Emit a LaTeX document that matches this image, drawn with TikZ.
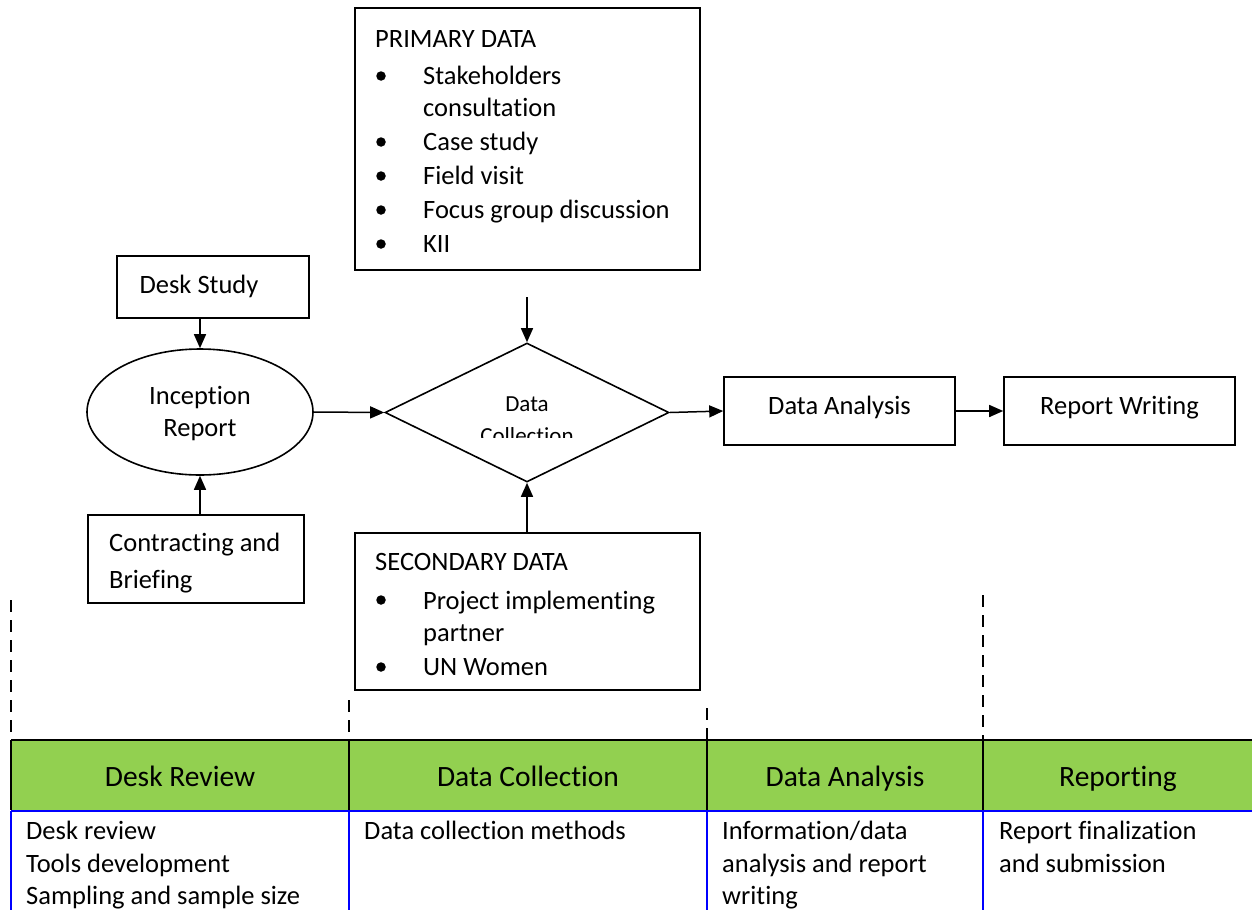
\documentclass[tikz,border=0pt]{standalone}
\usepackage{fontspec}
\setmainfont[Ligatures=NoCommon]{Carlito}
\usetikzlibrary{shapes.geometric,arrows.meta}
\definecolor{hdrgreen}{HTML}{92D050}
\definecolor{tblue}{HTML}{0000FF}
\tikzset{
  box/.style={draw, line width=1.6pt, inner sep=0pt},
  txt/.style={anchor=base west, inner sep=0pt, font=\fontsize{26.5}{30}\selectfont},
  ctxt/.style={anchor=base, inner sep=0pt, font=\fontsize{26.5}{30}\selectfont},
  hdr/.style={anchor=base, inner sep=0pt, font=\fontsize{29.5}{34}\selectfont},
  dtxt/.style={anchor=base, inner sep=0pt, font=\fontsize{23}{27}\selectfont},
  arr/.style={line width=1.5pt, -{Triangle[length=14pt,width=12pt]}},
  dsh/.style={line width=1.4pt, dash pattern=on 12pt off 8pt},
  bul/.style={circle, fill=black, inner sep=0pt, minimum size=9.5pt},
}
\begin{document}
\begin{tikzpicture}[x=1pt,y=-1pt]
\useasboundingbox (0,0) rectangle (1252,910);
% primary data box
\node[box, minimum width=345pt, minimum height=262pt] (prim) at (527.5,139) {};
\node[txt] (pt) at (375,47) {PRIMARY DATA};
\node[bul] (pb1) at (381,76) {};
\node[txt] (p1) at (423,84) {Stakeholders};
\node[txt] (p1b) at (423,116) {consultation};
\node[bul] (pb2) at (381,142) {};
\node[txt] (p2) at (423,150) {Case study};
\node[bul] (pb3) at (381,176) {};
\node[txt] (p3) at (423,184) {Field visit};
\node[bul] (pb4) at (381,210) {};
\node[txt] (p4) at (423,218) {Focus group discussion};
\node[bul] (pb5) at (381,244) {};
\node[txt] (p5) at (423,252) {KII};
% desk study
\node[box, minimum width=192pt, minimum height=62pt] (desk) at (213,287) {};
\node[ctxt] (deskt) at (199,293) {Desk Study};
% inception ellipse
\node[ellipse, draw, line width=1.6pt, minimum width=226pt, minimum height=126pt, inner sep=0pt] (inc) at (200,412) {};
\node[ctxt] (inct1) at (200,404) {Inception};
\node[ctxt] (inct2) at (200,436) {Report};
% contracting
\node[box, minimum width=216pt, minimum height=88pt] (contr) at (196,559) {};
\node[txt] (c1) at (109,551) {Contracting and};
\node[txt] (c2) at (109,588) {Briefing};
% diamond
\node[diamond, draw, line width=1.6pt, minimum width=284pt, minimum height=139pt, inner sep=0pt] (dc) at (527,412.5) {};
\node[dtxt] (dct1) at (527,411) {Data};
\begin{scope}
\clip (430,420) rectangle (620,437);
\node[dtxt] (dct2) at (527,443) {Collection};
\end{scope}
% secondary
\node[box, minimum width=345pt, minimum height=157pt] (sec) at (527.5,611.5) {};
\node[txt] (st) at (375,570) {SECONDARY DATA};
\node[bul] (sb1) at (381,600) {};
\node[txt] (s1) at (423,609) {Project implementing};
\node[txt] (s1b) at (423,641) {partner};
\node[bul] (sb2) at (381,667) {};
\node[txt] (s2) at (423,675) {UN Women};
% analysis and report
\node[box, minimum width=231pt, minimum height=68pt] (ana) at (839.5,411) {};
\node[ctxt] (anat) at (839.5,414) {Data Analysis};
\node[box, minimum width=231pt, minimum height=68pt] (rep) at (1119.5,411) {};
\node[ctxt] (rept) at (1119.5,414) {Report Writing};
% connectors
\coordinate (topin) at (527,297);
\draw[arr] (desk.south -| inc.north) -- (inc.north);
\draw[arr] (contr.north -| inc.south) -- (inc.south);
\draw[arr] (inc.east) -- (dc.west);
\draw[arr] (topin) -- (dc.north);
\draw[arr] (sec.north -| dc.south) -- (dc.south);
\draw[arr] (dc.east) -- (ana.west);
\draw[arr] (ana.east) -- (rep.west);
% dashed guides
\draw[dsh] (11,600) -- (11,740);
\draw[dsh] (349,700) -- (349,740);
\draw[dsh] (707,708) -- (707,740);
\draw[dsh] (983,595) -- (983,740);
% table
\fill[hdrgreen] (11,740) rectangle (1252,810);
\draw[line width=2pt] (11,740) -- (1252,740);
\foreach \xx in {11,349,707,983} \draw[line width=2pt] (\xx,740) -- (\xx,810);
\draw[tblue, line width=2.5pt] (11,811) -- (1252,811);
\foreach \xx in {11,349,707,983} \draw[tblue, line width=2pt] (\xx,811) -- (\xx,910);
\node[hdr] (h1) at (180,786) {Desk Review};
\node[hdr] (h2) at (528,786) {Data Collection};
\node[hdr] (h3) at (845,786) {Data Analysis};
\node[hdr] (h4) at (1118,786) {Reporting};
\node[txt] (b11) at (26,839) {Desk review};
\node[txt] (b12) at (26,872) {Tools development};
\node[txt] (b13) at (26,904) {Sampling and sample size};
\node[txt] (b21) at (364,839) {Data collection methods};
\node[txt] (b31) at (722,839) {Information/data};
\node[txt] (b32) at (722,872) {analysis and report};
\node[txt] (b33) at (722,904) {writing};
\node[txt] (b41) at (999,839) {Report finalization};
\node[txt] (b42) at (999,872) {and submission};
\end{tikzpicture}
\end{document}
